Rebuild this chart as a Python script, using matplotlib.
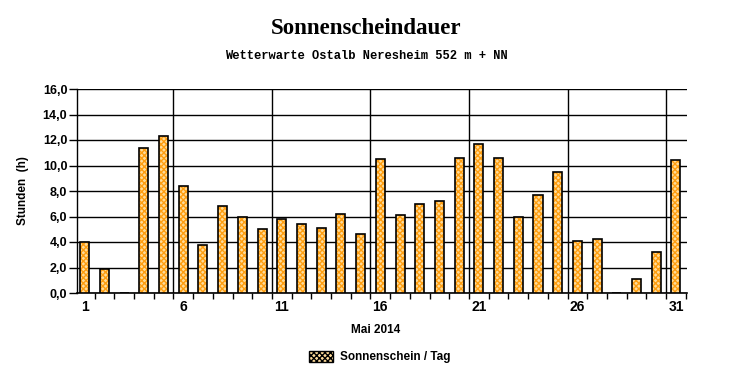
import matplotlib
matplotlib.use("Agg")
import matplotlib.pyplot as plt
from matplotlib.ticker import FixedLocator, FuncFormatter
from matplotlib.patches import Patch

days = list(range(1, 32))
sunshine = [4.0, 1.9, 0.0, 11.4, 12.3, 8.4, 3.8, 6.8, 6.0, 5.0,
            5.8, 5.4, 5.1, 6.2, 4.6, 10.5, 6.1, 7.0, 7.2, 10.6,
            11.7, 10.6, 6.0, 7.7, 9.5, 4.1, 4.2, 0.0, 1.1, 3.2, 10.4]
xtick_days = [1, 6, 11, 16, 21, 26, 31]
title = "Sonnenscheindauer"
subtitle = "Wetterwarte Ostalb Neresheim 552 m + NN"
xlabel = "Mai 2014"
ylabel = "Stunden  (h)"
legend_label = "Sonnenschein / Tag"

plt.rcParams['hatch.linewidth'] = 1.0

fig = plt.figure(figsize=(7.32, 3.80), dpi=100)
ax = fig.add_axes([77/732, 87/380, (687-77)/732, (293-89)/380])

ax.set_xlim(0.61, 31.56)
ax.set_ylim(0, 16)

ax.set_yticks([0, 2, 4, 6, 8, 10, 12, 14, 16])
ax.yaxis.set_major_formatter(FuncFormatter(lambda v, p: f"{v:.1f}".replace(".", ",")))
ax.grid(axis='y', color='black', linewidth=1)
for xv in [5.5, 10.5, 15.5, 20.5, 25.5, 30.5]:
    ax.axvline(xv, color='black', linewidth=1, zorder=1)
ax.set_axisbelow(True)

ax.bar(days, sunshine, width=0.46, facecolor='#FFDC9A', edgecolor='#FF9E10',
       hatch='xxxxxx', linewidth=0, zorder=3)
ax.bar(days, sunshine, width=0.46, fill=False, edgecolor='black', linewidth=1.2, zorder=4)

ax.xaxis.set_major_locator(FixedLocator(xtick_days))
ax.xaxis.set_minor_locator(FixedLocator([d + 0.5 for d in range(1, 31)] + [31.5]))
ax.tick_params(axis='x', which='major', length=0, pad=5, labelsize=10)
ax.tick_params(axis='x', which='minor', length=4, width=1, direction='out')
ax.tick_params(axis='y', length=6, width=1, pad=1, labelsize=9)
for lab in ax.get_xticklabels() + ax.get_yticklabels():
    lab.set_fontweight('bold')
    lab.set_family('Liberation Sans')

for s in ['top', 'right']:
    ax.spines[s].set_visible(False)
ax.spines['left'].set_linewidth(1)
ax.spines['bottom'].set_linewidth(1.2)

ax.set_ylabel(ylabel, fontsize=8.5, fontweight='bold', family='Liberation Sans', labelpad=10)

fig.text(0.5, 1 - 29/380, title, ha='center', va='center', fontsize=16.5,
         fontweight='bold', family='Liberation Serif')
fig.text(0.5, 1 - 56/380, subtitle, ha='center', va='center', fontsize=8.7,
         fontweight='bold', family='Liberation Mono')
fig.text(0.5 + 10/732, 1 - 330/380, xlabel, ha='center', va='center', fontsize=8.5,
         fontweight='bold', family='Liberation Sans')

handle = Patch(facecolor='#FFDC9A', edgecolor='black', hatch='xxxxxx', linewidth=1)
leg = fig.legend([handle], [legend_label], loc='center', bbox_to_anchor=(380/732, 1 - 357/380),
                 frameon=False, prop={'family': 'Liberation Sans', 'weight': 'bold', 'size': 8.5},
                 handlelength=2.0, handleheight=1.1, handletextpad=0.6)

fig.savefig("out.png", dpi=100)
